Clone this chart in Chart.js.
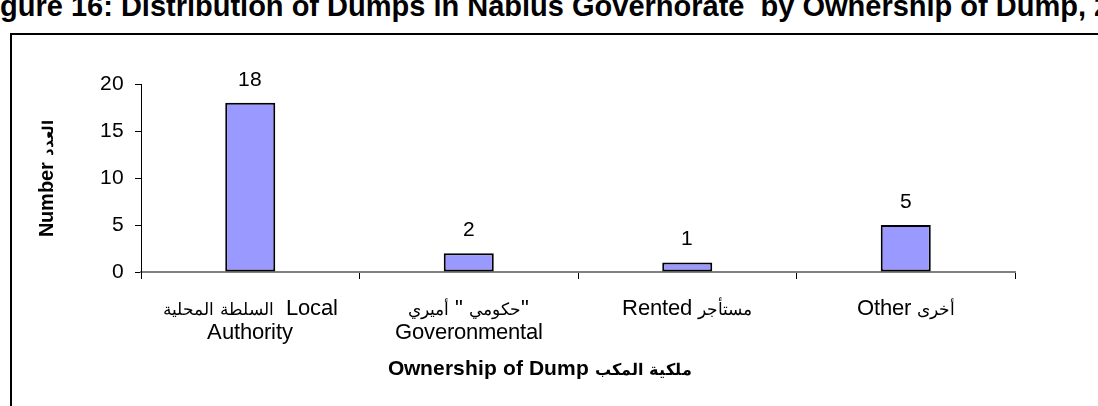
<!DOCTYPE html>
<html>
<head>
<meta charset="utf-8">
<script src="https://cdn.jsdelivr.net/npm/chart.js@4/dist/chart.umd.min.js"></script>
<style>
@font-face { font-family: 'ChartFont'; font-weight: 400; src: local('Liberation Sans'), local('LiberationSans'); unicode-range: U+0000-05FF, U+0700-FB4F, U+FE00-FE6F, U+FF00-FFFF; }
@font-face { font-family: 'ChartFont'; font-weight: 400; src: local('DejaVu Sans'), local('DejaVuSans'); unicode-range: U+0600-06FF, U+FB50-FDFF, U+FE70-FEFF; size-adjust: 76%; }
@font-face { font-family: 'ChartFont'; font-weight: 700; src: local('Liberation Sans Bold'), local('LiberationSans-Bold'); unicode-range: U+0000-05FF, U+0700-FB4F, U+FE00-FE6F, U+FF00-FFFF; }
@font-face { font-family: 'ChartFont'; font-weight: 700; src: local('DejaVu Sans Bold'), local('DejaVuSans-Bold'); unicode-range: U+0600-06FF, U+FB50-FDFF, U+FE70-FEFF; size-adjust: 76%; }
html,body{margin:0;padding:0;background:#fff;}
#wrap{position:relative;width:1098px;height:406px;overflow:hidden;background:#fff;}
#title{position:absolute;left:-30px;top:-8px;white-space:pre;font:bold 29px "Liberation Sans",Arial,sans-serif;color:#000;line-height:29px;}
#frame{position:absolute;left:10px;top:33px;width:2000px;height:2000px;border-left:2px solid #000;border-top:2px solid #000;box-sizing:border-box;}
#c{position:absolute;left:0;top:0;}
</style>
</head>
<body>
<div id="wrap">
<div id="title">Figure 16: Distribution of Dumps in Nablus Governorate  by Ownership of Dump, 2009</div>
<div id="frame"></div>
<canvas id="c" width="1098" height="406"></canvas>
</div>
<script>
// ---- data ----
const categories = [
  ["السلطة المحلية  Local", "Authority"],
  ["حكومي \" أميري\"", "Goveronmental"],
  "Rented مستأجر",
  "Other أخرى"
];
const values = [18, 2, 1, 5];
const yTicks = [0, 5, 10, 15, 20];
const yTitle = "Number العدد";
const xTitle = "Ownership of Dump ملكية المكب";

const FONT = 'ChartFont, "Liberation Sans", Arial, "DejaVu Sans", sans-serif';

// ---- title offset so that "Fi" is clipped on the left ----
(function(){
  const mc = document.createElement('canvas').getContext('2d');
  mc.font = 'bold 29px "Liberation Sans", Arial, sans-serif';
  document.getElementById('title').style.left = (-mc.measureText('Fi').width) + 'px';
})();

const valueLabels = {
  id: 'valueLabels',
  afterDatasetsDraw(chart) {
    const ctx = chart.ctx;
    const meta = chart.getDatasetMeta(0);
    ctx.save();
    ctx.font = '21px ' + FONT;
    ctx.fillStyle = '#000';
    ctx.textAlign = 'center';
    ctx.textBaseline = 'middle';
    meta.data.forEach((bar, i) => {
      ctx.fillText(String(values[i]), bar.x, bar.y - 23);
    });
    ctx.restore();
  }
};

const xAxisTitle = {
  id: 'xAxisTitle',
  afterDraw(chart) {
    const ctx = chart.ctx;
    const a = chart.chartArea;
    ctx.save();
    ctx.font = 'bold 21px ' + FONT;
    ctx.fillStyle = '#000';
    ctx.textAlign = 'center';
    ctx.textBaseline = 'middle';
    ctx.fillText(xTitle, (a.left + a.right) / 2 - 38, 369);
    ctx.restore();
  }
};

function build() {
  new Chart(document.getElementById('c'), {
    type: 'bar',
    data: {
      labels: categories,
      datasets: [{
        data: values,
        backgroundColor: '#9999FF',
        borderColor: '#000000',
        borderWidth: 2,
        borderSkipped: false,
        categoryPercentage: 1.0,
        barPercentage: 0.229
      }]
    },
    options: {
      responsive: false,
      animation: false,
      devicePixelRatio: 1,
      layout: { padding: { top: 84, right: 83, left: 0, bottom: 0 } },
      plugins: { legend: { display: false }, tooltip: { enabled: false }, title: { display: false } },
      scales: {
        x: {
          afterFit(s) { s.height = 134; },
          grid: { display: true, drawOnChartArea: false, drawTicks: true, tickLength: 7, color: '#000', lineWidth: 1, offset: true },
          border: { display: true, color: '#808080', width: 2 },
          ticks: { color: '#000', font: { family: FONT, size: 22, lineHeight: 1.1 }, padding: 18, maxRotation: 0, autoSkip: false }
        },
        y: {
          min: 0, max: 20,
          afterFit(s) { s.width = 141; },
          afterBuildTicks(s) { s.ticks = yTicks.map(v => ({ value: v })); },
          grid: { display: true, drawOnChartArea: false, drawTicks: true, tickLength: 6, color: '#000', lineWidth: 1 },
          border: { display: true, color: '#000', width: 1 },
          ticks: { color: '#000', font: { family: FONT, size: 21 }, padding: 11 },
          title: { display: true, text: yTitle, color: '#000', font: { family: FONT, size: 20, weight: 'bold', lineHeight: 1.2 }, padding: { top: 35, bottom: 0 } }
        }
      }
    },
    plugins: [valueLabels, xAxisTitle]
  });
}

const loads = [
  document.fonts.load('22px ChartFont', 'Aأ'),
  document.fonts.load('bold 22px ChartFont', 'Aأ')
];
Promise.race([
  Promise.all(loads).catch(() => null),
  new Promise(r => setTimeout(r, 800))
]).then(build);
</script>
</body>
</html>
